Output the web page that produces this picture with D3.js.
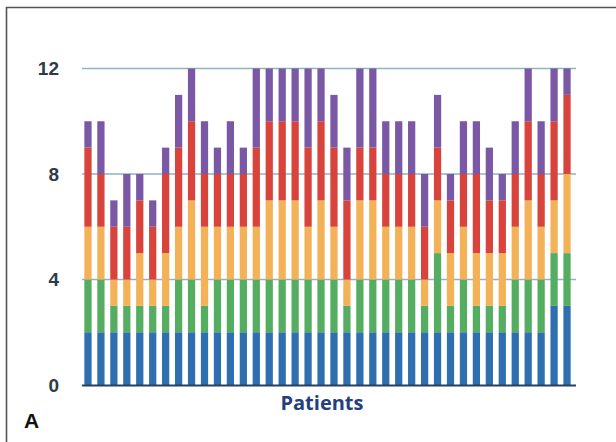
<!DOCTYPE html>
<html>
<head>
<meta charset="utf-8">
<script src="https://cdn.jsdelivr.net/npm/d3@7"></script>
<style>
  html, body { margin: 0; padding: 0; background: #fff; }
  svg { display: block; }
</style>
</head>
<body>
<svg id="chart" width="616" height="442"></svg>
<script>
// ---- data ----
const patients = d3.range(1, 39).map(i => "P" + i);
const seriesNames = ["s1", "s2", "s3", "s4", "s5"];
const s1 = [2,2,2,2,2,2,2,2,2,2,2,2,2,2,2,2,2,2,2,2,2,2,2,2,2,2,2,2,2,2,2,2,2,2,2,2,3,3];
const s2 = [2,2,1,1,1,1,1,2,2,1,2,2,2,2,2,2,2,2,2,2,1,2,2,2,2,2,1,3,1,2,1,1,1,2,2,2,2,2];
const s3 = [2,2,1,1,2,1,2,2,3,3,2,2,2,2,3,3,3,2,3,2,1,3,3,2,2,2,1,2,2,2,2,2,2,2,3,2,2,3];
const s4 = [3,2,2,2,2,2,3,3,3,2,2,2,2,3,3,3,3,3,3,3,3,2,2,2,2,2,2,2,2,2,3,2,2,2,3,2,3,3];
const s5 = [1,2,1,2,1,1,1,2,2,2,1,2,1,3,2,2,2,3,2,2,2,3,3,2,2,2,2,2,1,2,2,2,1,2,2,2,2,1];
const colors = ["#2f6fb0", "#55ad62", "#f3b257", "#d8433c", "#7a58a5"];
const yTicks = [0, 4, 8, 12];
const xTitle = "Patients";
const panelLabel = "A";

// ---- build ----
const rows = patients.map((p, i) => ({ p, s1: s1[i], s2: s2[i], s3: s3[i], s4: s4[i], s5: s5[i] }));
const stack = d3.stack().keys(seriesNames)(rows);

const svg = d3.select("#chart");

// frame (left + top edges)
svg.append("path")
  .attr("d", "M6.5,442 L6.5,7.5 L616,7.5")
  .attr("fill", "none").attr("stroke", "#555").attr("stroke-width", 1.6);

const x = d3.scaleBand().domain(patients).range([81.5, 573.5]).paddingInner(0.44).paddingOuter(0.22);
const y = d3.scaleLinear().domain([0, 12]).range([385, 68.5]);

// gridlines
svg.append("g").selectAll("line").data(yTicks.filter(t => t > 0)).join("line")
  .attr("x1", 82).attr("x2", 576)
  .attr("y1", d => y(d)).attr("y2", d => y(d))
  .attr("stroke", "#8fb2c4").attr("stroke-width", 1.4);

// bars
svg.append("g").selectAll("g").data(stack).join("g")
  .attr("fill", (d, i) => colors[i])
  .selectAll("rect").data(d => d).join("rect")
  .attr("x", d => x(d.data.p))
  .attr("width", x.bandwidth())
  .attr("y", d => y(d[1]))
  .attr("height", d => y(d[0]) - y(d[1]));

// baseline
svg.append("line")
  .attr("x1", 82).attr("x2", 576).attr("y1", y(0) + 0.5).attr("y2", y(0) + 0.5)
  .attr("stroke", "#27405f").attr("stroke-width", 2);

// y axis labels
const yAxis = d3.axisLeft(y).tickValues(yTicks).tickSize(0).tickPadding(0);
const ga = svg.append("g").attr("transform", "translate(59,0)").call(yAxis);
ga.select(".domain").remove();
ga.selectAll("text")
  .attr("font-family", "Liberation Sans, Arial, sans-serif")
  .attr("font-weight", "bold").attr("font-size", 19)
  .attr("fill", "#2d3b48");

// x title
svg.append("text").attr("x", 322).attr("y", 410)
  .attr("text-anchor", "middle")
  .attr("font-family", "Open Sans, Liberation Sans, sans-serif")
  .attr("font-weight", "bold").attr("font-size", 20)
  .attr("fill", "#233f80").text(xTitle);

// panel label
svg.append("text").attr("x", 24).attr("y", 428)
  .attr("font-family", "Liberation Sans, Arial, sans-serif")
  .attr("font-weight", "bold").attr("font-size", 21)
  .attr("fill", "#111").text(panelLabel);
</script>
</body>
</html>
